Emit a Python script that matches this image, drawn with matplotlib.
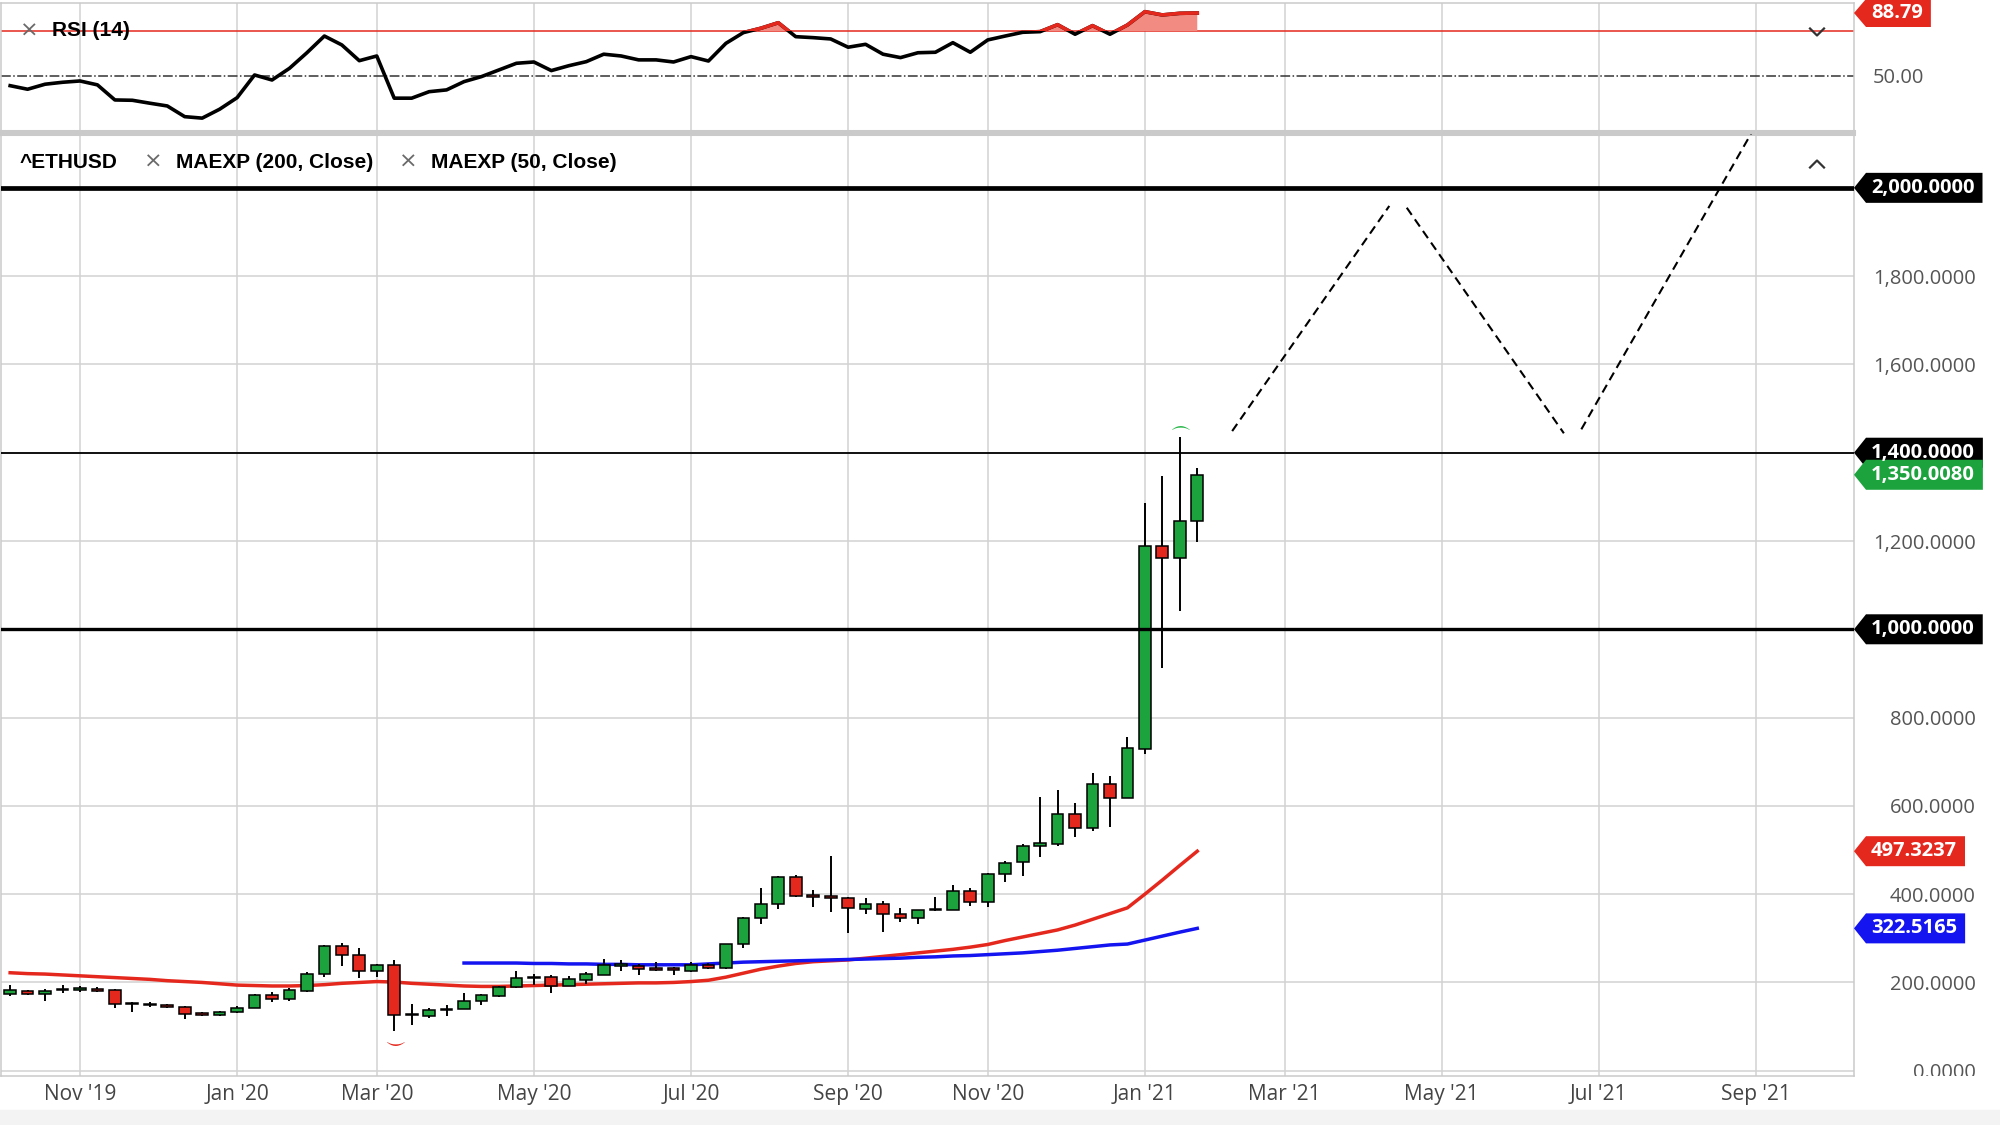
import matplotlib
matplotlib.use("Agg")
import matplotlib.pyplot as plt
import matplotlib.dates as mdates
from matplotlib.patches import Polygon, Rectangle
from matplotlib.lines import Line2D
from matplotlib.transforms import IdentityTransform, Bbox
import numpy as np
import pandas as pd

plt.rcParams['font.family'] = ['Open Sans', 'DejaVu Sans']

# weekly ETH/USD candles, one per Monday from 2019-10-07
opens = [174, 181, 174, 182, 184, 186, 182, 152, 151, 148, 145, 128, 126, 133, 143, 171, 163, 181,
         219, 283, 262, 226, 240, 126, 125, 137, 140, 159, 170, 189, 209, 213, 193, 206, 218, 238,
         238, 231, 231, 226, 239, 232, 286, 345, 377, 438, 395, 394, 392, 367, 378, 354, 347, 363,
         365, 408, 383, 446, 472, 509, 513, 581, 549, 650, 617, 728, 1189, 1161, 1246]
highs = [194, 183, 185, 194, 192, 189, 186, 156, 155, 152, 147, 134, 136, 147, 173, 178, 187, 224,
         285, 289, 277, 241, 251, 152, 141, 148, 175, 174, 192, 226, 219, 216, 215, 224, 252, 250,
         241, 246, 234, 247, 243, 288, 349, 413, 441, 444, 409, 487, 394, 392, 385, 368, 365, 394,
         420, 415, 448, 476, 514, 621, 635, 606, 674, 668, 756, 1285, 1347, 1436, 1365]
lows = [169, 171, 157, 176, 178, 178, 141, 132, 145, 141, 117, 123, 125, 131, 142, 156, 158, 178,
        213, 238, 209, 212, 90, 103, 120, 124, 139, 149, 166, 187, 194, 176, 191, 197, 216, 227,
        218, 227, 217, 224, 230, 231, 279, 332, 366, 394, 370, 359, 312, 354, 315, 336, 333, 362,
        364, 374, 370, 427, 442, 485, 508, 530, 544, 553, 617, 718, 912, 1042, 1198]
closes = [183, 173, 181, 184, 185, 181, 152, 151, 148, 145, 129, 127, 133, 143, 172, 163, 183, 219,
          282, 262, 226, 240, 127, 128, 137, 139, 159, 171, 189, 209, 213, 193, 208, 220, 240, 240,
          230, 229, 229, 239, 232, 286, 345, 377, 438, 395, 394, 392, 368, 378, 354, 347, 363, 364,
          408, 383, 445, 471, 509, 516, 581, 549, 650, 617, 730, 1189, 1161, 1246, 1350.008]

ema_red = [222, 220, 219, 217, 215, 213, 211, 209, 207, 204, 202, 200, 197, 194, 193, 192, 192, 193,
           195, 198, 200, 202, 201, 198, 196, 194, 192, 191, 191, 192, 193, 194, 195, 196, 197, 198,
           199, 199, 200, 202, 205, 212, 221, 230, 237, 243, 247, 249, 251, 255, 259, 263, 267, 271,
           275, 280, 286, 295, 303, 311, 319, 330, 343, 356, 369, 400, 432, 465, 497.3237]
# blue average starts with the 27th candle
ema_blue = [244, 244, 244, 244, 243, 243, 242, 242, 241, 241, 240, 240, 240, 240, 242, 244, 246, 247,
            248, 249, 250, 251, 252, 253, 254, 255, 257, 258, 260, 261, 263, 265, 267, 270, 273, 277,
            281, 285, 287, 296, 305, 314, 322.5165]

rsi = [44.0, 41.8, 44.9, 46.1, 46.9, 44.5, 35.2, 35.0, 33.2, 31.5, 24.9, 24.0, 29.5, 36.6, 50.6,
       47.5, 54.7, 64.3, 74.6, 69.1, 59.4, 62.3, 36.3, 36.3, 40.3, 41.4, 46.5, 49.6, 53.7, 57.8,
       58.6, 53.3, 56.3, 58.8, 63.4, 62.3, 59.9, 59.9, 58.6, 61.9, 59.2, 70.1, 76.7, 79.4, 82.8,
       74.2, 73.6, 72.8, 67.7, 69.5, 63.4, 61.3, 64.3, 64.6, 70.5, 64.6, 72.2, 74.6, 76.9, 77.3,
       81.6, 75.7, 81.0, 75.7, 81.4, 89.6, 87.6, 88.6, 88.79]
rsi_level = 77.7

levels = [2000, 1400, 1000]
level_widths = [3.4, 1.3, 2.4]

# projected path (dashed)
proj = [(['2021-02-08', '2021-04-12'], [1449, 1959]),
        (['2021-04-19', '2021-06-21'], [1955, 1444]),
        (['2021-06-28', '2021-09-04'], [1453, 2122])]

tick_dates = ['2019-11-04', '2020-01-06', '2020-03-02', '2020-05-04', '2020-07-06', '2020-09-07',
              '2020-11-02', '2021-01-04', '2021-03-01', '2021-05-03', '2021-07-05', '2021-09-06']
tick_labels = ["Nov '19", "Jan '20", "Mar '20", "May '20", "Jul '20", "Sep '20",
               "Nov '20", "Jan '21", "Mar '21", "May '21", "Jul '21", "Sep '21"]

GREEN = '#1ca33e'
RED = '#e5281e'
BLUE = '#1414f0'
GRID = '#d2d2d2'

dates = pd.date_range('2019-10-07', periods=len(closes), freq='7D')
x = mdates.date2num(dates)
rsi = np.array(rsi)

fig = plt.figure(figsize=(20, 11.25), dpi=100)
ax_rsi = fig.add_axes([0.0005, 0.8836, 0.9265, 0.1138])
ax = fig.add_axes([0.0005, 0.0436, 0.9265, 0.8373], sharex=ax_rsi)
fig.patches.append(Rectangle((0, 0), 1, 15 / 1125, transform=fig.transFigure,
                             color='#f3f3f3', zorder=-5))

ax.set_xlim(mdates.date2num(pd.Timestamp('2019-10-03 08:00')),
            mdates.date2num(pd.Timestamp('2021-10-15 08:00')))
ax.set_ylim(-11.8, 2122)
ax_rsi.set_ylim(16.1, 95.0)

for a in (ax, ax_rsi):
    a.set_xticks(mdates.date2num(pd.to_datetime(tick_dates)))
    a.grid(True, color=GRID, lw=1.1)
    a.set_axisbelow(True)
    for s in a.spines.values():
        s.set_color('#cacaca')
        s.set_linewidth(1.1)
    a.yaxis.tick_right()
ax_rsi.grid(False, axis='y')
ax_rsi.spines['bottom'].set_linewidth(2.2)
ax.spines['top'].set_linewidth(2.2)

ax.set_xticklabels(tick_labels)
ax.tick_params(axis='x', length=0, pad=6, labelsize=15, labelcolor='#444444')
ax_rsi.tick_params(axis='x', length=0, labelbottom=False)

ax.set_yticks(range(0, 2001, 200), ['{:,.4f}'.format(v) for v in range(0, 2001, 200)])
ax.tick_params(axis='y', length=0, pad=87.8, labelsize=14.5, labelcolor='#555555')
plt.setp(ax.get_yticklabels(), ha='right')
# the lowest price label is cut by the date strip, as in the source chart
ax_box = ax.get_window_extent()
for t in ax.get_yticklabels():
    t.set_clip_box(Bbox([[ax_box.x1, ax_box.y0], [fig.bbox.x1, fig.bbox.y1]]))
    t.set_clip_on(True)
ax_rsi.set_yticks([50], ['50.00'])
ax_rsi.tick_params(axis='y', length=0, pad=13.7, labelsize=14.5, labelcolor='#555555')

# candles
w = 4.7
for xi, o, h, l, c in zip(x, opens, highs, lows, closes):
    col = GREEN if c >= o else RED
    ax.vlines(xi, l, h, color='black', lw=1.4, zorder=3)
    ax.add_patch(Rectangle((xi - w / 2, min(o, c)), w, max(abs(c - o), 3), facecolor=col,
                           edgecolor='black', lw=1.1, zorder=4))

ax.plot(x, ema_red, color=RED, lw=2.5, zorder=2)
ax.plot(x[26:], ema_blue, color=BLUE, lw=2.5, zorder=2)

for lv, lw in zip(levels, level_widths):
    ax.axhline(lv, color='black', lw=lw, zorder=5)

for d, v in proj:
    ax.plot(mdates.date2num(pd.to_datetime(d)), v, color='black', lw=1.5,
            ls=(0, (4.2, 2.6)), zorder=5)

ax.annotate(r'$\smile$', xy=(x[22], lows[22]), xytext=(0, -8), textcoords='offset points',
            ha='center', va='center', color=RED, fontsize=14)
ax.annotate(r'$\frown$', xy=(x[67], highs[67]), xytext=(0, 7), textcoords='offset points',
            ha='center', va='center', color='#2db84d', fontsize=14)

# RSI pane
ax_rsi.axhline(rsi_level, color=RED, lw=1.1, zorder=2)
ax_rsi.axhline(50, color='#333333', lw=1.1, ls='-.', zorder=2)
ax_rsi.fill_between(x, rsi, rsi_level, where=rsi >= rsi_level, interpolate=True,
                    color='#f28b82', lw=0, zorder=2)
ax_rsi.plot(x, rsi, color='black', lw=2.6, zorder=3)
hi_line, = ax_rsi.plot(x, rsi, color=RED, lw=2.6, zorder=4)
clip = Rectangle((x[0] - 50, rsi_level), 2000, 50, transform=ax_rsi.transData)
hi_line.set_clip_path(clip)

# pane headers
hdr = dict(family=['Liberation Sans', 'DejaVu Sans'], fontsize=15, va='center')
xmark = dict(family=['DejaVu Sans'], fontsize=16, va='center', ha='center', color='#6a6a6a')
fig.text(29 / 2000, 1 - 31 / 1125, '×', **xmark)
fig.text(52 / 2000, 1 - 31 / 1125, 'RSI (14)', fontweight='bold', color='black', **hdr)
fig.text(20 / 2000, 1 - 162 / 1125, '^ETHUSD', fontweight='bold', color='black', **hdr)
fig.text(153 / 2000, 1 - 162 / 1125, '×', **xmark)
fig.text(176 / 2000, 1 - 162 / 1125, 'MAEXP (200, Close)', fontweight='bold', color='black', **hdr)
fig.text(408 / 2000, 1 - 162 / 1125, '×', **xmark)
fig.text(431 / 2000, 1 - 162 / 1125, 'MAEXP (50, Close)', fontweight='bold', color='black', **hdr)


def chevron(xc, yc, up):
    s = 1 if up else -1
    xs = [(xc - 7) / 2000, xc / 2000, (xc + 7) / 2000]
    ys = [1 - (yc + 3.5 * s) / 1125, 1 - (yc - 3.5 * s) / 1125, 1 - (yc + 3.5 * s) / 1125]
    fig.add_artist(Line2D(xs, ys, color='#333333', lw=1.6, transform=fig.transFigure))


chevron(1817, 32, False)
chevron(1817, 164, True)

# value tags on the right
renderer = fig.canvas.get_renderer()


def tag(axis, value, label, color, h=30):
    x0 = axis.transAxes.transform((1, 0))[0]
    yd = axis.transData.transform((0, value))[1]
    t = fig.text(x0 + 17, yd, label, transform=IdentityTransform(), color='white',
                 fontsize=14.5, fontweight='bold', va='center', ha='left', zorder=11)
    xr = t.get_window_extent(renderer=renderer).x1 + 8
    verts = [(x0, yd), (x0 + 12, yd + h / 2), (xr, yd + h / 2), (xr, yd - h / 2),
             (x0 + 12, yd - h / 2)]
    fig.add_artist(Polygon(verts, closed=True, transform=IdentityTransform(),
                           facecolor=color, edgecolor='none', zorder=10))


tag(ax, 2000, '2,000.0000', 'black')
tag(ax, 1400, '1,400.0000', 'black')
tag(ax, closes[-1], '1,350.0080', GREEN)
tag(ax, 1000, '1,000.0000', 'black')
tag(ax, ema_red[-1], '497.3237', RED)
tag(ax, ema_blue[-1], '322.5165', BLUE)
tag(ax_rsi, rsi[-1], '88.79', RED, h=28)

fig.savefig('out.png', dpi=100)
